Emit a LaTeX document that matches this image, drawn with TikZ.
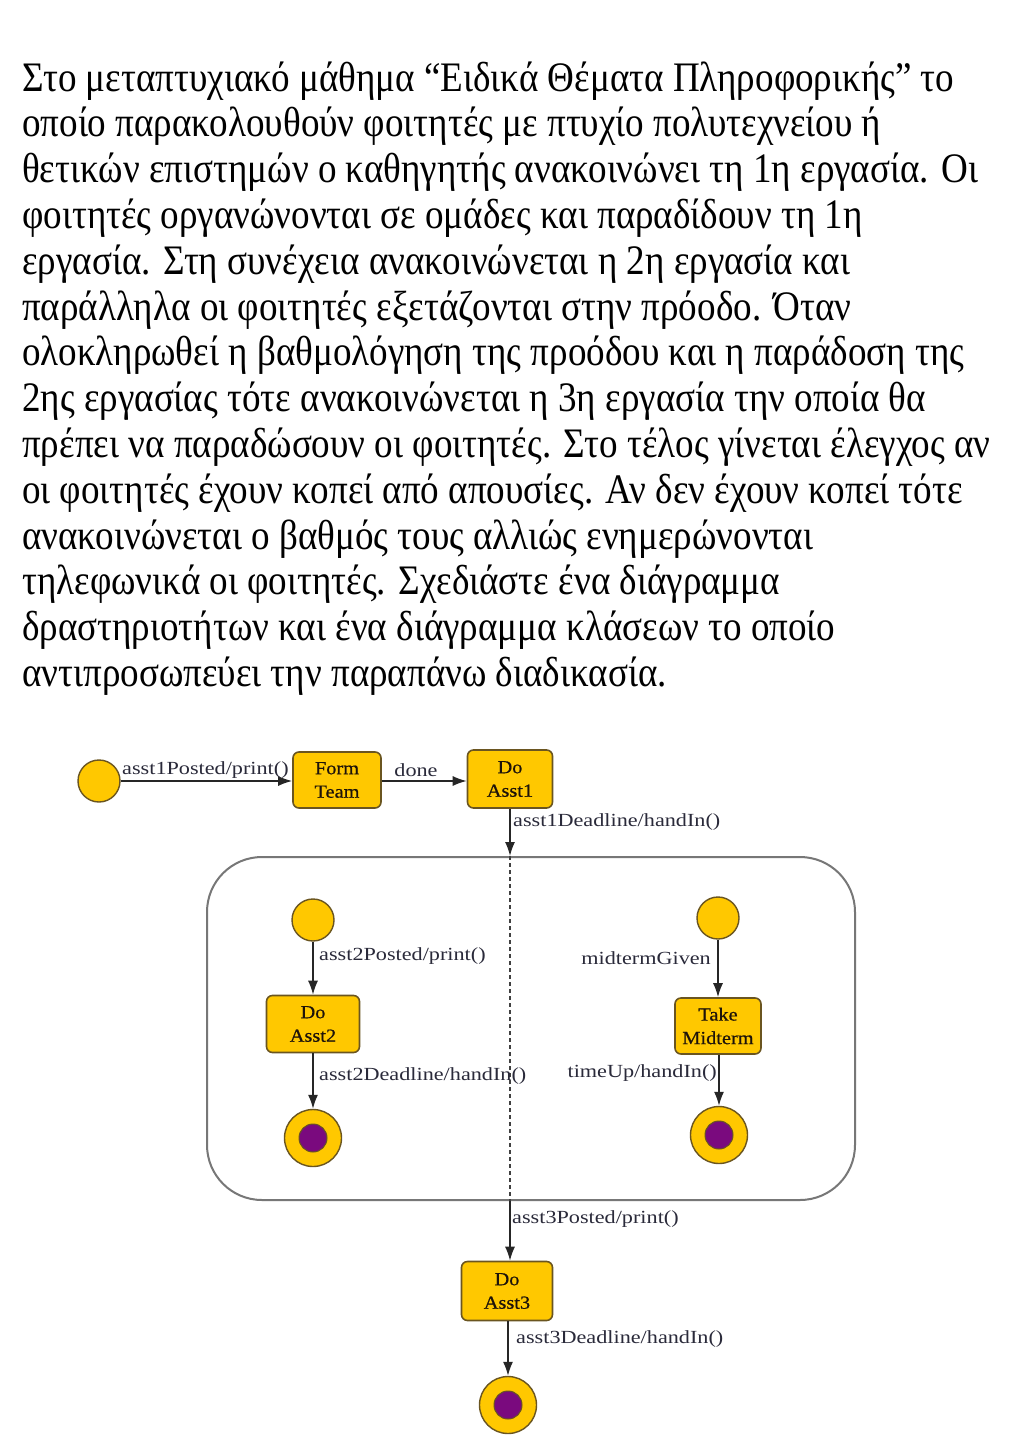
\documentclass[tikz,border=0pt]{standalone}
\usepackage{fontspec}
\setmainfont{Liberation Serif}
\newfontfamily\parafont[FakeStretch=0.883]{Liberation Serif}
\newfontfamily\diagfont[FakeStretch=1.2]{Liberation Serif}
\newfontfamily\boxfont[FakeStretch=1.1,FakeBold=0.6]{Liberation Serif}
\usetikzlibrary{arrows.meta}
\definecolor{styellow}{HTML}{FFC800}
\definecolor{stline}{HTML}{6A5520}
\definecolor{stpurple}{HTML}{7A0A7E}
\definecolor{compline}{HTML}{777777}
\definecolor{lbltext}{HTML}{2A2A3A}
\tikzset{
  para/.style={anchor=base west, inner sep=0pt, font=\parafont\fontsize{42}{45.8}\selectfont},
  stbox/.style={rectangle, rounded corners=6pt, draw=stline, fill=styellow, line width=1.6pt,
    align=center, inner sep=0pt, font=\boxfont\fontsize{18.5}{23.5}\selectfont, text=black!85!brown},
  initst/.style={circle, draw=stline, fill=styellow, line width=1.4pt, minimum size=42pt, inner sep=0pt},
  finalst/.style={circle, draw=stline, fill=styellow, line width=1.4pt, minimum size=57pt, inner sep=0pt,
    path picture={\fill[stpurple] (path picture bounding box.center) circle (14pt);
      \draw[stline, line width=1pt] (path picture bounding box.center) circle (14pt);}},
  trans/.style={draw=black!85, line width=1.5pt, -{Latex[length=14pt,width=10pt]}},
  lbl/.style={inner sep=0pt, font=\diagfont\fontsize{18.5}{20}\selectfont, text=lbltext},
  comp/.style={rectangle, rounded corners=55pt, draw=compline, line width=2pt, inner sep=0pt}
}
\begin{document}
\begin{tikzpicture}[x=1pt,y=-1pt]
\useasboundingbox[fill=white] (0,0) rectangle (1024,1448);
% paragraph
\node[para] (t1)  at (22, 91.0) {Στο μεταπτυχιακό μάθημα “Ειδικά Θέματα Πληροφορικής” το};
\node[para] (t2)  at (22,136.8) {οποίο παρακολουθούν φοιτητές με πτυχίο πολυτεχνείου ή};
\node[para] (t3)  at (22,182.6) {θετικών επιστημών ο καθηγητής ανακοινώνει τη 1η εργασία. Οι};
\node[para] (t4)  at (22,228.4) {φοιτητές οργανώνονται σε ομάδες και παραδίδουν τη 1η};
\node[para] (t5)  at (22,274.2) {εργασία. Στη συνέχεια ανακοινώνεται η 2η εργασία και};
\node[para] (t6)  at (22,320.0) {παράλληλα οι φοιτητές εξετάζονται στην πρόοδο. Όταν};
\node[para] (t7)  at (22,365.8) {ολοκληρωθεί η βαθμολόγηση της προόδου και η παράδοση της};
\node[para] (t8)  at (22,411.6) {2ης εργασίας τότε ανακοινώνεται η 3η εργασία την οποία θα};
\node[para] (t9)  at (22,457.4) {πρέπει να παραδώσουν οι φοιτητές. Στο τέλος γίνεται έλεγχος αν};
\node[para] (t10) at (22,503.2) {οι φοιτητές έχουν κοπεί από απουσίες. Αν δεν έχουν κοπεί τότε};
\node[para] (t11) at (22,549.0) {ανακοινώνεται ο βαθμός τους αλλιώς ενημερώνονται};
\node[para] (t12) at (22,594.8) {τηλεφωνικά οι φοιτητές. Σχεδιάστε ένα διάγραμμα};
\node[para] (t13) at (22,640.6) {δραστηριοτήτων και ένα διάγραμμα κλάσεων το οποίο};
\node[para] (t14) at (22,686.4) {αντιπροσωπεύει την παραπάνω διαδικασία.};
% diagram states
\node[initst] (i0) at (99,781) {};
\node[stbox, minimum width=88pt, minimum height=56pt] (ft) at (337,780) {Form\\Team};
\node[stbox, minimum width=85pt, minimum height=58pt] (a1) at (510,779) {Do\\Asst1};
\node[comp, minimum width=648pt, minimum height=343pt] (cp) at (531,1028.5) {};
\node[initst] (i2) at (313,920) {};
\node[stbox, minimum width=93pt, minimum height=57pt] (a2) at (313,1024) {Do\\Asst2};
\node[finalst] (f2) at (313,1138) {};
\node[initst] (im) at (718,918) {};
\node[stbox, minimum width=86pt, minimum height=56pt] (tm) at (718,1026) {Take\\Midterm};
\node[finalst] (fm) at (719,1135) {};
\node[stbox, minimum width=91pt, minimum height=59pt] (a3) at (507,1291) {Do\\Asst3};
\node[finalst] (f3) at (508,1405) {};
% connectors
\draw[trans] (i0) -- (ft.west |- i0);
\draw[trans] (ft.east |- i0) -- (a1.west |- i0);
\draw[trans] (a1.south) -- (cp.north -| a1.south);
\draw[black!75, line width=1.4pt, dash pattern=on 4pt off 3pt] (cp.north -| a1.south) -- (cp.south -| a1.south);
\draw[trans] (cp.south -| a1.south) -- (a3.north -| a1.south);
\draw[trans] (a3.south -| f3) -- (f3);
\draw[trans] (i2) -- (a2);
\draw[trans] (a2) -- (f2);
\draw[trans] (im) -- (tm);
\draw[trans] (tm.south -| fm) -- (fm);
% labels
\node[lbl, anchor=west] (l1) at (122,770) {asst1Posted/print()};
\node[lbl] (l2) at (416,770) {done};
\node[lbl, anchor=west] (l3) at (513,822) {asst1Deadline/handIn()};
\node[lbl, anchor=west] (l4) at (319,956) {asst2Posted/print()};
\node[lbl, anchor=west] (l5) at (319,1076) {asst2Deadline/handIn()};
\node[lbl, anchor=east] (l6) at (711,958) {midtermGiven};
\node[lbl, anchor=east] (l7) at (717,1073) {timeUp/handIn()};
\node[lbl, anchor=west] (l8) at (512,1219) {asst3Posted/print()};
\node[lbl, anchor=west] (l9) at (516,1339) {asst3Deadline/handIn()};
\end{tikzpicture}
\end{document}
